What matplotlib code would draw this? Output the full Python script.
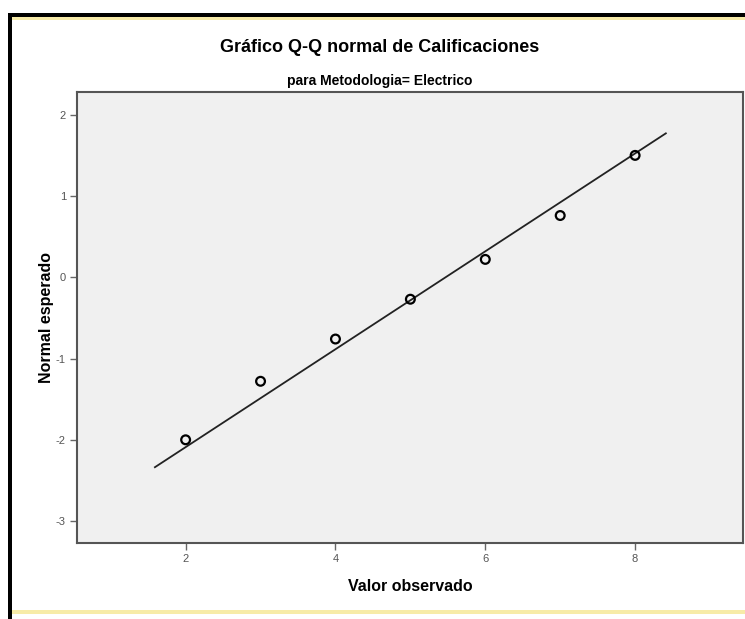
import matplotlib.pyplot as plt
from matplotlib.patches import Rectangle

# observed values and expected normal quantiles
observed = [2, 3, 4, 5, 6, 7, 8]
expected = [-2.00, -1.28, -0.76, -0.27, 0.22, 0.76, 1.50]
# reference line: y = (x - mean) / sd
line_mean = 5.47
line_sd = 1.66
line_x = [1.59, 8.41]
xticks = [2, 4, 6, 8]
yticks = [-3, -2, -1, 0, 1, 2]

W, H = 745, 619
plt.rcParams['font.family'] = ['Liberation Sans', 'DejaVu Sans']
plt.rcParams['axes.unicode_minus'] = False
fig = plt.figure(figsize=(W / 100, H / 100), dpi=100)


def px_rect(x0, y0, x1, y1, color):
    # rectangle given in pixel coordinates (top-left origin)
    fig.add_artist(Rectangle((x0 / W, 1 - y1 / H), (x1 - x0) / W, (y1 - y0) / H,
                             transform=fig.transFigure, color=color, lw=0))


# frame around the output like in the viewer
px_rect(8, 13, W, 17, 'black')
px_rect(12, 17, W, 20, '#f7eba8')
px_rect(8, 13, 12, H, 'black')
px_rect(12, 610, W, 614, '#f7eba8')

ax = fig.add_axes([77 / W, 1 - 543 / H, (743 - 77) / W, (543 - 92) / H])
ax.set_facecolor('#f0f0f0')

line_y = [(x - line_mean) / line_sd for x in line_x]
ax.plot(line_x, line_y, color='#222222', lw=1.3)
ax.scatter(observed, expected, s=40, facecolors='none', edgecolors='black',
           linewidths=1.6, zorder=3)

ax.set_xlim(0.55, 9.44)
ax.set_ylim(-3.27, 2.28)
ax.set_xticks(xticks)
ax.set_yticks(yticks)
ax.tick_params(direction='out', length=5, width=1, color='#666666',
               labelcolor='#555555', labelsize=8, pad=3)
for s in ax.spines.values():
    s.set_color('#555555')
    s.set_linewidth(1.5)

ax.set_xlabel('Valor observado', fontsize=11.5, fontweight='bold', labelpad=11)
ax.set_ylabel('Normal esperado', fontsize=11.5, fontweight='bold', labelpad=1)

fig.text(380 / W, 1 - 47 / H, 'Gráfico Q-Q normal de Calificaciones',
         ha='center', va='center', fontsize=13, fontweight='bold')
fig.text(380 / W, 1 - 81 / H, 'para Metodologia= Electrico',
         ha='center', va='center', fontsize=10, fontweight='bold')

fig.savefig('out.png', dpi=100, facecolor='white')
